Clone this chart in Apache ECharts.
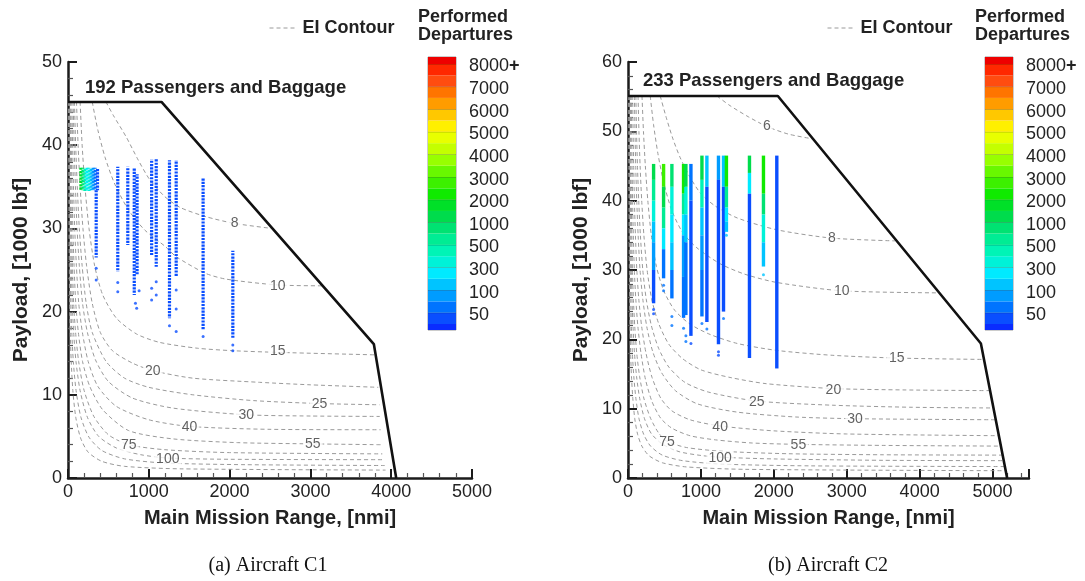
<!DOCTYPE html>
<html>
<head>
<meta charset="utf-8">
<script src="https://cdn.jsdelivr.net/npm/echarts@6/dist/echarts.min.js"></script>
<style>
html,body{margin:0;padding:0;background:#fff}
#chart{width:1085px;height:581px}
</style>
</head>
<body>
<div id="chart"></div>
<script>
// ---------- payload-range envelopes [range nmi, payload 1000 lbf] ----------
const envelopeC1 = [[0,45.2],[1157,45.2],[3785,16.1],[4062,0]];
const envelopeC2 = [[0,55.1],[2055,55.1],[4840,19.4],[5200,0]];

// ---------- EI contours, aircraft C1 ----------
const c1Ei8   = [[470,45.2],[560,43.6],[720,41.0],[870,38.2],[1009,35.9],[1200,33.8],[1392,32.5],[1710,31.4],[2061,30.6],[2520,30.0]];
const c1Ei10  = [[300,45.2],[370,41.8],[460,38.5],[580,35.3],[750,32.2],[950,29.8],[1207,27.8],[1339,26.6],[1702,24.6],[1958,23.9],[2597,23.2],[3150,23.1]];
const c1Ei15  = [[150,45.2],[175,40],[210,35],[260,30],[330,25.5],[430,22],[600,19.2],[850,17.3],[1133,16.3],[1600,15.6],[2040,15.3],[2597,15.1],[3805,14.8]];
const c1Ei20  = [[105,45.2],[125,40],[150,35],[185,30],[230,25.5],[300,21],[400,17.5],[550,15.3],[800,13.8],[1050,12.9],[1545,12.0],[2370,11.5],[3000,11.2],[3840,10.9]];
const c1Ei25  = [[80,45.2],[95,40],[115,35],[140,30],[175,25.5],[225,21],[300,17.5],[472,14.0],[700,12.0],[1000,10.9],[1545,10.0],[2300,9.3],[3113,8.95],[3855,8.8]];
const c1Ei30  = [[64,45.2],[76,40],[92,35],[112,30],[140,25.5],[180,21],[240,17.5],[340,14.2],[500,11.6],[800,9.6],[1300,8.4],[2205,7.6],[3000,7.45],[3860,7.4]];
const c1Ei40  = [[48,45.2],[57,40],[68,35],[83,30],[104,25.5],[133,21],[178,17.5],[250,14],[370,11],[600,8.6],[1000,7.0],[1504,6.2],[2500,5.85],[3870,5.8]];
const c1Ei55  = [[35,45.2],[41,40],[49,35],[60,30],[75,25.5],[96,21],[128,17.5],[180,14],[270,11],[430,8.2],[750,5.7],[1300,4.7],[2100,4.25],[3030,4.1],[3880,4.0]];
const c1Ei75  = [[26,45.2],[30,40],[36,35],[44,30],[55,25.5],[70,21],[94,17.5],[132,14],[200,10.5],[320,7.4],[500,5.2],[753,4.0],[1200,3.4],[2000,3.05],[3890,2.9]];
const c1Ei100 = [[19,45.2],[23,40],[27,35],[33,30],[41,25.5],[53,21],[70,17.5],[99,14],[150,10.5],[240,7.3],[380,5.0],[600,3.6],[900,2.8],[1235,2.4],[2000,2.25],[3900,2.2]];
const c1Ei150 = [[13,45.2],[15,40],[18,35],[22,30],[27,25.5],[35,21],[47,17.5],[66,14],[100,10.5],[160,7.3],[260,4.9],[420,3.3],[700,2.3],[1200,1.8],[2200,1.6],[3920,1.5]];
const c1Ei250 = [[8,45.2],[9,40],[11,35],[13,30],[16,25.5],[21,21],[28,17.5],[40,14],[60,10.5],[96,7.3],[156,4.8],[250,3.1],[420,2.0],[700,1.4],[1400,1.1],[3930,0.95]];
const c1Contours = [c1Ei8,c1Ei10,c1Ei15,c1Ei20,c1Ei25,c1Ei30,c1Ei40,c1Ei55,c1Ei75,c1Ei100,c1Ei150,c1Ei250];
// [range, payload, EI]
const c1ContourLabels = [[2061,30.6,8],[2597,23.1,10],[2597,15.2,15],[1050,12.9,20],[3113,8.9,25],[2205,7.5,30],[1504,6.1,40],[3030,4.1,55],[753,3.9,75],[1235,2.3,100]];

// ---------- EI contours, aircraft C2 ----------
const c2Ei6   = [[1219,55.1],[1400,53.7],[1650,52.1],[1904,50.7],[2200,49.6],[2540,48.9]];
const c2Ei8   = [[442,55.1],[530,51.8],[620,48.8],[716,46.2],[850,43.4],[1000,41.0],[1200,39.2],[1500,37.5],[2041,35.8],[2795,34.6],[3660,34.2]];
const c2Ei10  = [[305,55.1],[350,51],[410,46.8],[490,42.6],[600,38.6],[750,35.4],[945,33.2],[1264,30.9],[1600,29.4],[2041,28.2],[2932,27.0],[4265,26.7]];
const c2Ei15  = [[192,55.1],[212,50],[238,45],[272,40],[320,35],[390,30.5],[490,27],[640,24.2],[850,22.2],[1127,20.7],[1500,19.4],[2041,18.4],[2800,17.7],[3685,17.3],[4880,17.1]];
const c2Ei20  = [[138,55.1],[150,50],[166,45],[188,40],[218,35],[262,30],[325,25.8],[420,22.3],[560,19.3],[750,17.2],[1000,15.6],[1400,14.5],[1900,13.6],[2817,12.9],[3800,12.7],[4966,12.6]];
const c2Ei25  = [[108,55.1],[117,50],[130,45],[147,40],[170,35],[203,30],[250,25.8],[320,22],[420,18.7],[560,16],[780,13.8],[1100,12.4],[1767,11.1],[2800,10.5],[3900,10.2],[5013,10.1]];
const c2Ei30  = [[88,55.1],[96,50],[106,45],[120,40],[139,35],[165,30],[203,25.8],[258,21.8],[340,18.2],[460,15.2],[650,12.6],[950,10.7],[1500,9.5],[2300,8.8],[3114,8.55],[5045,8.4]];
const c2Ei40  = [[64,55.1],[70,50],[78,45],[88,40],[102,35],[121,30],[148,25.8],[188,21.8],[247,18],[330,14.5],[450,11.5],[600,9.7],[850,8.4],[1264,7.5],[2000,6.8],[3000,6.35],[5088,6.1]];
const c2Ei55  = [[46,55.1],[50,50],[56,45],[63,40],[73,35],[87,30],[107,25.8],[136,21.8],[178,18],[240,14.2],[330,11],[450,8.6],[600,7.2],[850,6.1],[1200,5.5],[1700,5.05],[2337,4.85],[3500,4.7],[5115,4.6]];
const c2Ei75  = [[33,55.1],[36,50],[40,45],[45,40],[52,35],[61,30],[74,25.8],[93,21.8],[120,18],[160,14.6],[220,11.4],[310,8.6],[420,6.5],[534,5.3],[800,4.4],[1300,3.85],[2200,3.5],[3500,3.35],[5135,3.3]];
const c2Ei100 = [[25,55.1],[27,50],[30,45],[34,40],[39,35],[46,30],[55,25.8],[69,21.8],[89,18],[118,14.6],[160,11.5],[225,8.6],[320,6.4],[470,4.9],[700,3.8],[1000,3.25],[1264,3.0],[2000,2.75],[3500,2.55],[5155,2.5]];
const c2Ei150 = [[17,55.1],[19,50],[21,45],[24,40],[27,35],[32,30],[38,25.8],[47,21.8],[60,18],[80,14.6],[108,11.5],[150,8.6],[215,6.3],[310,4.6],[470,3.3],[750,2.5],[1300,2.0],[2500,1.75],[5170,1.65]];
const c2Ei250 = [[10,55.1],[11,50],[12,45],[14,40],[16,35],[19,30],[23,25.8],[28,21.8],[36,18],[48,14.6],[66,11.5],[92,8.6],[132,6.3],[190,4.6],[290,3.2],[470,2.2],[800,1.6],[1600,1.25],[5180,1.05]];
const c2Contours = [c2Ei6,c2Ei8,c2Ei10,c2Ei15,c2Ei20,c2Ei25,c2Ei30,c2Ei40,c2Ei55,c2Ei75,c2Ei100,c2Ei150,c2Ei250];
const c2ContourLabels = [[1904,50.7,6],[2795,34.6,8],[2932,26.9,10],[3685,17.3,15],[2817,12.7,20],[1767,11.0,25],[3114,8.5,30],[1264,7.4,40],[2337,4.8,55],[534,5.1,75],[1264,2.9,100]];

// ---------- performed departures ----------
// C1 columns: [range, payload top, payload bottom, departures]
const c1Columns = [
  [160,37.3,34.6,1500],[185,37.3,34.6,900],[210,37.3,34.5,450],[235,37.3,34.5,250],
  [260,37.3,34.5,350],[285,37.3,34.6,150],[310,37.3,34.6,90],[335,37.3,34.6,60],[365,37.3,34.6,45],
  [349,34.6,26.5,35],[616,37.4,24.8,30],[740,37.4,28.0,30],[820,37.2,22.0,30],
  [855,36.5,24.5,30],[1035,38.3,26.8,30],[1092,38.3,25.4,30],[1256,38.2,19.2,30],
  [1339,38.2,24.2,30],[1672,36.0,17.8,30],[2040,27.3,16.8,30]
];
// C1 isolated flights: [range, payload, departures]
const c1Dots = [
  [349,25.2,35],[349,23.8,35],[616,23.5,30],[616,22.4,30],[835,21.0,30],[850,20.4,30],
  [880,22.5,30],[1035,22.8,30],[1035,21.4,30],[1092,23.6,30],[1092,22.0,30],[1256,18.3,30],
  [1339,22.6,30],[1339,20.3,30],[1339,17.6,30],[1672,17.0,30],[2040,16.0,30],[2040,15.3,30]
];
// C2 column segments: [range, payload top, payload bottom, departures]
const c2Columns = [
  [351,45.3,43,1100],[351,43,40,600],[351,40,37,330],[351,37,34,180],[351,34,30,90],[351,30,25.2,45],
  [488,45.3,42,2600],[488,42,39,1300],[488,39,36,500],[488,36,33,200],[488,33,28.8,70],
  [602,45.3,42,800],[602,42,38,380],[602,38,34,200],[602,34,30,100],[602,30,25.9,50],
  [762,45.3,41,2000],[762,41,38,700],[762,38,35,250],[762,35,29,90],[762,29,23.1,50],
  [794,45.3,42,1300],[794,42,38,350],[794,38,34,150],[794,34,23.5,50],
  [863,45.3,40,70],[863,40,20.5,40],
  [1014,46.5,43,1000],[1014,43,39,400],[1014,39,35,180],[1014,35,30,90],[1014,30,23.3,50],
  [1082,46.5,42,130],[1082,42,22.5,45],
  [1241,46.5,43,80],[1241,43,19.3,40],
  [1310,46.5,42,150],[1310,42,24,45],
  [1350,46.5,42,2000],[1350,42,39,700],[1350,39,37,250],[1350,37,35.5,100],
  [1666,46.5,44,1200],[1666,44,41,250],[1666,41,17.3,45],
  [1858,46.5,41,2000],[1858,41,38,800],[1858,38,34,300],[1858,34,30.5,130],
  [2041,46.5,15.8,40]
];
const c2Dots = [
  [351,24.3,45],[351,23.7,45],[488,27.8,60],[488,27.0,60],[602,23.3,50],[602,22.0,50],
  [762,21.6,50],[794,20.5,50],[794,19.7,50],[863,19.4,45],[1014,22.3,50],[1082,21.5,50],
  [1241,18.2,45],[1241,17.7,45],[1310,23.0,50],[1350,35.0,100],[1858,29.3,100]
];

// ---------- colour scale ----------
const departureLevels = [50,100,300,500,1000,2000,3000,4000,5000,6000,7000,8000];
const departureTickText = ['50','100','300','500','1000','2000','3000','4000','5000','6000','7000','8000+'];
const stripEdges = [-1.53,-1,0,1,2,3,4,5,6,7,8,9,10,11,12,13,14,15,16,17,18,19,20,21,22,22.62];
const stripColors = ['#0a2cff','#0a4eff','#0074ff','#009cff','#00c4ff','#00eaff','#00f2d8','#00f4b6','#00ec94','#00e272','#00dc4c','#00e028',
  '#10ea00','#3cf000','#68f800','#98ff00','#c4ff00','#e8ff00','#fff000','#ffc800','#ff9c00','#ff7400','#ff4c10','#ff2800','#ee0000'];

function levelPos(v){
  if (v < departureLevels[0]) return -1.53 + 1.53 * v / departureLevels[0];
  for (let k = 0; k < departureLevels.length - 1; k++) {
    const a = departureLevels[k], b = departureLevels[k+1];
    if (v < b) return 2*k + 2*(v - a)/(b - a);
  }
  return 22.3;
}
function depColor(v){
  const p = levelPos(v);
  for (let i = 0; i < stripColors.length; i++) {
    if (p < stripEdges[i+1]) return stripColors[i];
  }
  return stripColors[stripColors.length-1];
}

// ---------- chart ----------
const FONT = '"Liberation Sans", Arial, Helvetica, sans-serif';
const INK = '#1b1b1b';

function rangeAxis(gi, max){
  return {
    type:'value', gridIndex:gi, min:0, max:max, interval:1000,
    name:'Main Mission Range, [nmi]', nameLocation:'middle', nameGap:30,
    nameTextStyle:{fontSize:20, fontWeight:'bold', color:'#222', fontFamily:FONT},
    axisLine:{show:true, onZero:false, lineStyle:{color:INK, width:2.5}},
    axisTick:{show:true, inside:true, length:9, lineStyle:{color:INK, width:2}},
    minorTick:{show:true, splitNumber:5, length:5, lineStyle:{color:'#555', width:1.2}},
    axisLabel:{fontSize:18, color:'#222', margin:5, fontFamily:FONT,
      formatter: v => (v % 1000 === 0 && v <= 5000) ? String(v) : ''},
    splitLine:{show:false}
  };
}
function payloadAxis(gi, max){
  return {
    type:'value', gridIndex:gi, min:0, max:max, interval:10,
    name:'Payload, [1000 lbf]', nameLocation:'middle', nameGap:36, nameRotate:90,
    nameTextStyle:{fontSize:21, fontWeight:'bold', color:'#222', fontFamily:FONT},
    axisLine:{show:true, onZero:false, lineStyle:{color:INK, width:2.5}},
    axisTick:{show:true, inside:true, length:9, lineStyle:{color:INK, width:2}},
    minorTick:{show:true, splitNumber:5, length:5, lineStyle:{color:'#555', width:1.2}},
    axisLabel:{fontSize:18, color:'#222', margin:6, fontFamily:FONT},
    splitLine:{show:false}
  };
}
function barAxisX(gi){ return {type:'value', gridIndex:gi, min:0, max:1, show:false}; }
function barAxisY(gi){
  return {
    type:'value', gridIndex:gi, min:stripEdges[0], max:stripEdges[stripEdges.length-1], position:'right',
    axisLine:{show:false}, axisTick:{show:false}, splitLine:{show:false},
    axisLabel:{show:true, margin:13, fontSize:18, color:'#222', fontFamily:FONT, padding:[5,0,0,0],
      customValues: departureTickText.map((t,i) => 2*i),
      formatter: v => {
        const t = departureTickText[Math.round(v/2)];
        return t.endsWith('+') ? t.slice(0,-1) + '{b|+}' : t;
      },
      rich:{b:{fontSize:18, fontWeight:'bold', color:'#222', fontFamily:FONT}}
    }
  };
}

function contourSeries(list, gi){
  return list.map(pts => ({
    type:'line', name:'EI Contour', xAxisIndex:gi, yAxisIndex:gi, data:pts,
    smooth:0.25, symbol:'none', silent:true, z:2,
    lineStyle:{type:[4,3], width:1, color:'#9a9a9a'},
    itemStyle:{color:'#9a9a9a'}
  }));
}
function contourLabelSeries(labels, gi){
  return {
    type:'scatter', xAxisIndex:gi, yAxisIndex:gi, data:labels, symbolSize:1, silent:true, z:3,
    itemStyle:{color:'rgba(0,0,0,0)'},
    label:{show:true, position:'inside', formatter: p => String(p.value[2]),
      fontSize:14, color:'#3a3a3a', fontFamily:FONT, backgroundColor:'#fff', padding:[0,2]}
  };
}
function envelopeSeries(pts, gi){
  return {type:'line', xAxisIndex:gi, yAxisIndex:gi, data:pts, symbol:'none', silent:true, z:6,
    lineStyle:{color:'#111', width:2.6}};
}
function dottedColumns(data, gi){
  return {
    type:'custom', xAxisIndex:gi, yAxisIndex:gi, data:data, silent:true, z:4,
    renderItem:(params, api) => {
      const a = api.coord([api.value(0), api.value(1)]);
      const b = api.coord([api.value(0), api.value(2)]);
      return {type:'line', shape:{x1:a[0], y1:a[1], x2:b[0], y2:b[1]},
        style:{stroke:depColor(api.value(3)), lineWidth:3.2, lineDash:[2.2,1.1], lineDashOffset:params.dataIndex % 3}};
    }
  };
}
function solidColumns(data, gi){
  return {
    type:'custom', xAxisIndex:gi, yAxisIndex:gi, data:data, silent:true, z:4,
    renderItem:(params, api) => {
      const a = api.coord([api.value(0), api.value(1)]);
      const b = api.coord([api.value(0), api.value(2)]);
      return {type:'rect', shape:{x:a[0]-1.7, y:a[1], width:3.4, height:b[1]-a[1]},
        style:{fill:depColor(api.value(3))}};
    }
  };
}
function dotSeries(data, gi){
  return {type:'scatter', xAxisIndex:gi, yAxisIndex:gi, data:data, symbolSize:3, silent:true, z:4,
    itemStyle:{color: p => depColor(p.value[2])}};
}
function colorBarSeries(gi){
  const strips = stripColors.map((c,i) => [stripEdges[i], stripEdges[i+1]]);
  return {
    type:'custom', xAxisIndex:gi, yAxisIndex:gi, data:strips, silent:true, z:2,
    renderItem:(params, api) => {
      const lo = api.value(0), hi = api.value(1);
      const a = api.coord([0, hi]), b = api.coord([1, lo]);
      const children = [{type:'rect', shape:{x:a[0], y:a[1], width:b[0]-a[0], height:b[1]-a[1]},
        style:{fill:stripColors[params.dataIndex]}}];
      if (Number.isInteger(hi) && hi % 2 === 0 && hi >= 0 && hi <= 22) {
        children.push({type:'line', shape:{x1:a[0], y1:a[1], x2:b[0], y2:a[1]},
          style:{stroke:'rgba(0,0,0,0.35)', lineWidth:1}});
      }
      return {type:'group', children:children};
    }
  };
}

function txt(x, y, text, opts){
  return {type:'text', x:x, y:y, silent:true, z:10,
    style:Object.assign({text:text, fontFamily:FONT, fontSize:18.5, fontWeight:'bold', fill:'#222',
      align:'left', verticalAlign:'top'}, opts || {})};
}

const legendBase = {data:['EI Contour'], top:14, itemWidth:28, itemHeight:10, itemGap:6, selectedMode:false,
  itemStyle:{opacity:0}, lineStyle:{width:1, color:'#9a9a9a'},
  textStyle:{fontSize:18, fontWeight:'bold', color:'#222', fontFamily:FONT}};

const chart = echarts.init(document.getElementById('chart'), null, {renderer:'canvas'});
chart.setOption({
  animation:false,
  backgroundColor:'#fff',
  grid:[
    {left:68, top:62, width:404, height:416},
    {left:628, top:62, width:401, height:416},
    {left:428, top:57, width:28, height:273, show:true, borderColor:'#9a9a9a', borderWidth:1, backgroundColor:'transparent'},
    {left:985, top:57, width:28, height:273, show:true, borderColor:'#9a9a9a', borderWidth:1, backgroundColor:'transparent'}
  ],
  xAxis:[rangeAxis(0,5000), rangeAxis(1,5500), barAxisX(2), barAxisX(3)],
  yAxis:[payloadAxis(0,50), payloadAxis(1,60), barAxisY(2), barAxisY(3)],
  legend:[
    Object.assign({}, legendBase, {left:264}),
    Object.assign({}, legendBase, {left:822})
  ],
  graphic:[
    txt(85, 78, '192 Passengers and Baggage'),
    txt(643, 71, '233 Passengers and Baggage'),
    txt(418, 8, 'Performed\nDepartures', {fontSize:18, lineHeight:18}),
    txt(975, 8, 'Performed\nDepartures', {fontSize:18, lineHeight:18}),
    txt(268, 566, '(a) Aircraft C1', {fontFamily:'"Liberation Serif", "DejaVu Serif", serif', fontSize:20, fontWeight:'normal', fill:'#111', align:'center', verticalAlign:'middle'}),
    txt(828, 566, '(b) Aircraft C2', {fontFamily:'"Liberation Serif", "DejaVu Serif", serif', fontSize:20, fontWeight:'normal', fill:'#111', align:'center', verticalAlign:'middle'})
  ],
  series:[].concat(
    contourSeries(c1Contours, 0),
    contourSeries(c2Contours, 1),
    [contourLabelSeries(c1ContourLabels, 0), contourLabelSeries(c2ContourLabels, 1)],
    [dottedColumns(c1Columns, 0), dotSeries(c1Dots, 0)],
    [solidColumns(c2Columns, 1), dotSeries(c2Dots, 1)],
    [envelopeSeries(envelopeC1, 0), envelopeSeries(envelopeC2, 1)],
    [colorBarSeries(2), colorBarSeries(3)]
  )
});
</script>
</body>
</html>
